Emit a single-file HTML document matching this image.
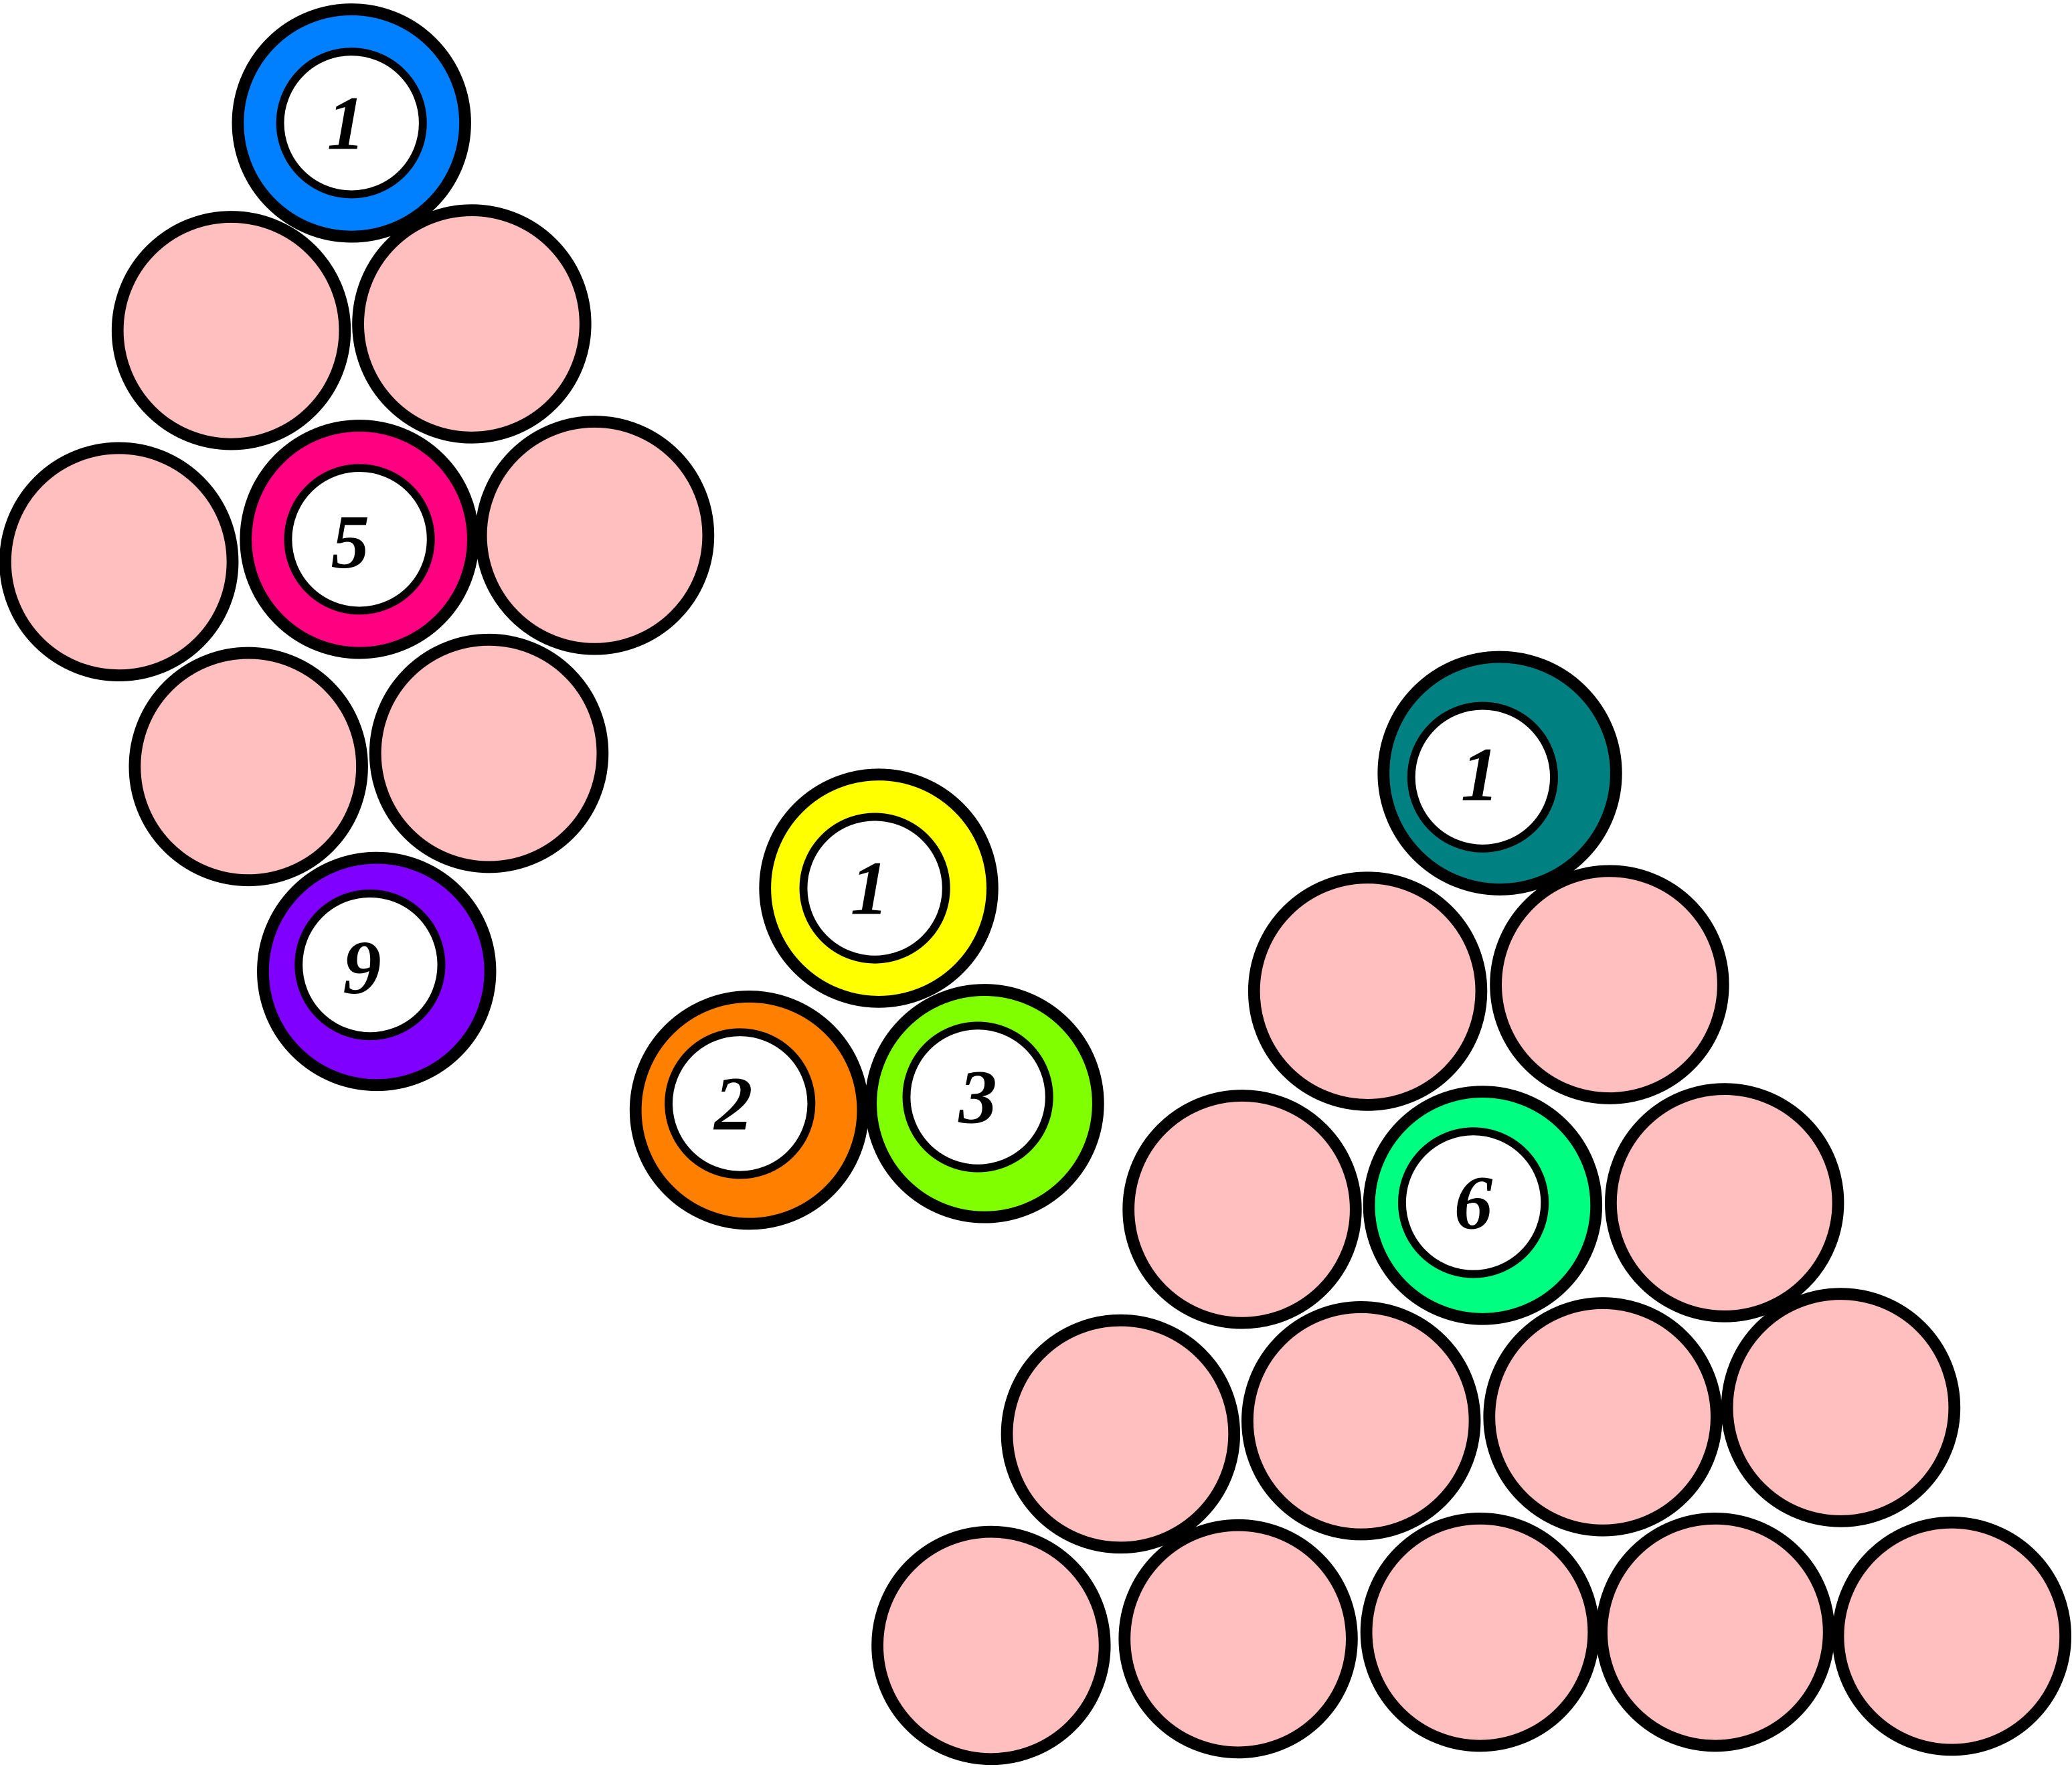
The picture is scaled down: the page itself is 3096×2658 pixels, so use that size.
<!DOCTYPE html>
<html><head><meta charset="utf-8"><style>
html,body{margin:0;padding:0;background:#fff;}
svg{display:block;}
text{font-family:"Liberation Serif",serif;font-style:italic;font-weight:bold;font-size:58px;fill:#000;text-anchor:middle;dominant-baseline:central;}
</style></head><body>
<svg width="3096" height="2658" viewBox="0 0 1568 1346" xmlns="http://www.w3.org/2000/svg">
<g stroke="#000" stroke-width="9">
<!-- diamond group -->
<circle cx="175" cy="250" r="86" fill="#FFBFBF"/>
<circle cx="357" cy="245" r="86" fill="#FFBFBF"/>
<circle cx="90" cy="425" r="86" fill="#FFBFBF"/>
<circle cx="450" cy="405" r="86" fill="#FFBFBF"/>
<circle cx="188" cy="580" r="86" fill="#FFBFBF"/>
<circle cx="370" cy="570" r="86" fill="#FFBFBF"/>
<circle cx="266" cy="93" r="86" fill="#0080FF"/>
<circle cx="266" cy="93" r="54" fill="#fff" stroke-width="6"/>
<circle cx="272" cy="408" r="86" fill="#FF0080"/>
<circle cx="272" cy="408" r="54" fill="#fff" stroke-width="6"/>
<circle cx="285" cy="735" r="86" fill="#8000FF"/>
<circle cx="280" cy="730" r="54" fill="#fff" stroke-width="6"/>
<!-- middle -->
<circle cx="665" cy="672" r="86" fill="#FFFF00"/>
<circle cx="662" cy="672" r="54" fill="#fff" stroke-width="6"/>
<circle cx="567" cy="840" r="86" fill="#FF8000"/>
<circle cx="560" cy="835" r="54" fill="#fff" stroke-width="6"/>
<circle cx="745" cy="835" r="86" fill="#80FF00"/>
<circle cx="740" cy="830" r="54" fill="#fff" stroke-width="6"/>
<!-- right triangle -->
<circle cx="1035" cy="750" r="86" fill="#FFBFBF"/>
<circle cx="1218" cy="745" r="86" fill="#FFBFBF"/>
<circle cx="940" cy="915" r="86" fill="#FFBFBF"/>
<circle cx="1305" cy="910" r="86" fill="#FFBFBF"/>
<circle cx="848" cy="1085" r="86" fill="#FFBFBF"/>
<circle cx="1030" cy="1075" r="86" fill="#FFBFBF"/>
<circle cx="1213" cy="1072" r="86" fill="#FFBFBF"/>
<circle cx="1393" cy="1065" r="86" fill="#FFBFBF"/>
<circle cx="750" cy="1245" r="86" fill="#FFBFBF"/>
<circle cx="937" cy="1240" r="86" fill="#FFBFBF"/>
<circle cx="1120" cy="1235" r="86" fill="#FFBFBF"/>
<circle cx="1298" cy="1235" r="86" fill="#FFBFBF"/>
<circle cx="1477" cy="1238" r="86" fill="#FFBFBF"/>
<circle cx="1135" cy="585" r="88" fill="#008080"/>
<circle cx="1122" cy="588" r="54" fill="#fff" stroke-width="6"/>
<circle cx="1122" cy="912" r="86" fill="#00FF80"/>
<circle cx="1115" cy="910" r="54" fill="#fff" stroke-width="6"/>
</g>
<text x="262" y="93">1</text>
<text x="265" y="410">5</text>
<text x="274" y="732">9</text>
<text x="658" y="672">1</text>
<text x="555" y="835">2</text>
<text x="740" y="830">3</text>
<text x="1120" y="586">1</text>
<text x="1115" y="910">6</text>
</svg>
</body></html>
